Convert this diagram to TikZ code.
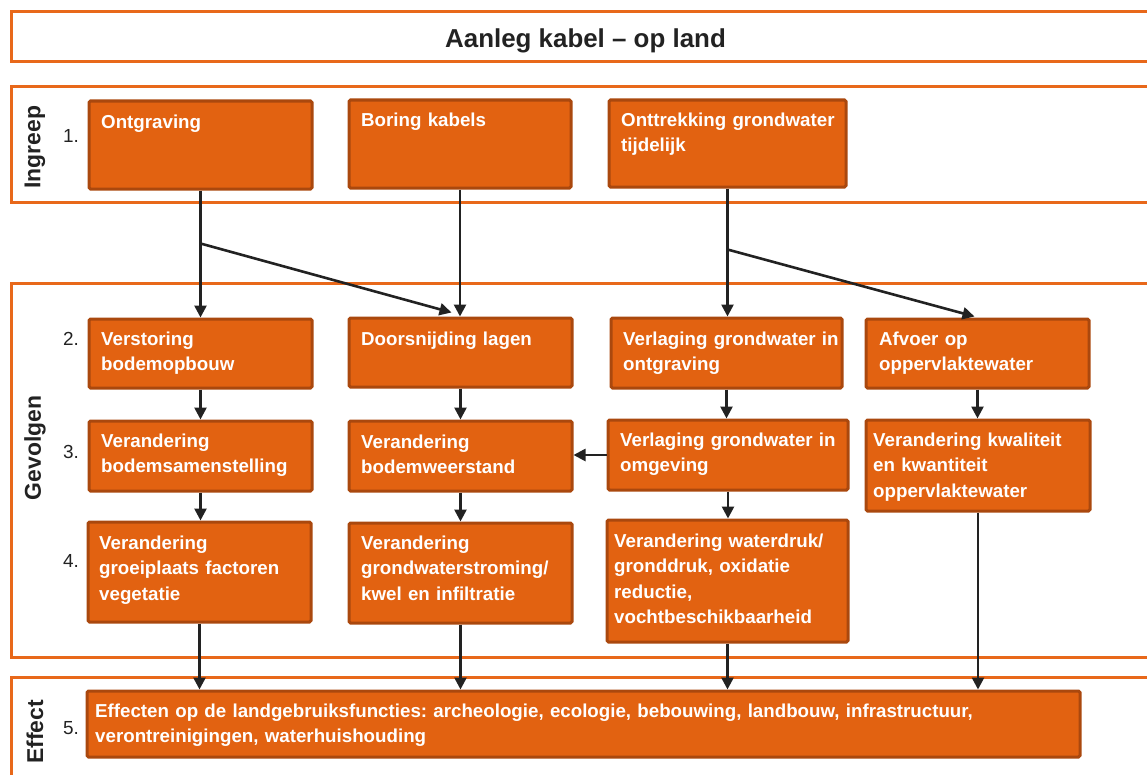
\documentclass[tikz,border=0pt]{standalone}
\usepackage{fontspec}
\setmainfont{Liberation Sans}
\usetikzlibrary{arrows.meta,fit,calc}

\definecolor{frameorange}{RGB}{232,104,26}
\definecolor{boxfill}{RGB}{226,98,17}
\definecolor{boxedge}{RGB}{170,72,14}
\definecolor{ink}{RGB}{34,34,34}

\begin{document}
\frenchspacing
\begin{tikzpicture}[x=1bp,y=-1bp,
  frame/.style={draw=frameorange,line width=3bp,inner sep=0pt},
  box/.style={draw=boxedge,fill=boxfill,line width=3bp,rounded corners=1.5bp,inner sep=0pt},
  boxtxt/.style={anchor=north west,inner sep=0pt,text=white,
    font=\fontsize{18.8}{25.7}\selectfont\bfseries,text width=1000bp,align=left},
  numlbl/.style={anchor=base west,inner sep=0pt,text=ink,font=\fontsize{19}{23}\selectfont},
  sidelbl/.style={rotate=90,inner sep=0pt,text=ink,font=\fontsize{23}{27}\selectfont\bfseries},
  arr/.style={draw=ink,line width=2.6bp,-{Triangle[length=12bp,width=12bp]}},
]
\path[use as bounding box] (0,0) rectangle (1147,775);
\clip (0,0) rectangle (1147,775);

% section frames
\node[frame,fit={(11,12) (1160,62)}] (titlebar) {};
\node[text=ink,font=\fontsize{26}{30}\selectfont\bfseries,inner sep=0pt]
  (title) at ($(titlebar.center)+(0,3.5)$) {Aanleg kabel – op land};
\node[frame,fit={(11,87) (1160,202)}] (ingreep) {};
\node[frame,fit={(11,283) (1160,657)}] (gevolgen) {};
\node[frame,fit={(11,677) (1160,800)}] (effect) {};

% section labels
\node[sidelbl] (l-ingreep) at (35,147) {Ingreep};
\node[sidelbl] (l-gevolgen) at (35,448) {Gevolgen};
\node[sidelbl] (l-effect) at (35,732) {Effect};

% step numbers
\node[numlbl] (n1) at (63,142) {1.};
\node[numlbl] (n2) at (63,345) {2.};
\node[numlbl] (n3) at (63,458) {3.};
\node[numlbl] (n4) at (63,567) {4.};
\node[numlbl] (n5) at (63,734) {5.};

% step 1: interventions
\node[box,fit={(89,101) (312,189)}] (A) {};
\node[boxtxt] (tA) at (101,110) {\strut Ontgraving};
\node[box,fit={(349,100) (571,188)}] (B) {};
\node[boxtxt] (tB) at (361,108) {\strut Boring kabels};
\node[box,fit={(609,100) (846,187)}] (C) {};
\node[boxtxt] (tC) at (621,108) {\strut Onttrekking grondwater\\tijdelijk};

% step 2
\node[box,fit={(89,319) (312,388)}] (D) {};
\node[boxtxt] (tD) at (101,327) {\strut Verstoring\\bodemopbouw};
\node[box,fit={(349,318) (572,387)}] (E) {};
\node[boxtxt] (tE) at (361,327) {\strut Doorsnijding lagen};
\node[box,fit={(611,318) (842,388)}] (F) {};
\node[boxtxt] (tF) at (623,327) {\strut Verlaging grondwater in\\ontgraving};
\node[box,fit={(866,319) (1089,388)}] (G) {};
\node[boxtxt] (tG) at (879,327) {\strut Afvoer op\\oppervlaktewater};

% step 3
\node[box,fit={(89,421) (312,491)}] (H) {};
\node[boxtxt] (tH) at (101,429) {\strut Verandering\\bodemsamenstelling};
\node[box,fit={(349,421) (572,491)}] (I) {};
\node[boxtxt] (tI) at (361,430) {\strut Verandering\\bodemweerstand};
\node[box,fit={(608,420) (848,490)}] (J) {};
\node[boxtxt] (tJ) at (620,428) {\strut Verlaging grondwater in\\omgeving};
\node[box,fit={(866,420) (1090,511)}] (K) {};
\node[boxtxt] (tK) at (873,428) {\strut Verandering kwaliteit\\en kwantiteit\\oppervlaktewater};

% step 4
\node[box,fit={(88,522) (311,622)}] (L) {};
\node[boxtxt] (tL) at (99,531) {\strut Verandering\\groeiplaats factoren\\vegetatie};
\node[box,fit={(349,523) (572,623)}] (M) {};
\node[boxtxt] (tM) at (361,531) {\strut Verandering\\grondwaterstroming/\\kwel en infiltratie};
\node[box,fit={(607,520) (848,642)}] (N) {};
\node[boxtxt] (tN) at (614,529) {\strut Verandering waterdruk/\\gronddruk, oxidatie\\reductie,\\vochtbeschikbaarheid};

% step 5: effects
\node[box,fit={(87,691) (1080,757)}] (O) {};
\node[boxtxt] (tO) at (95,699) {\strut Effecten op de landgebruiksfuncties: archeologie, ecologie, bebouwing, landbouw, infrastructuur,\\verontreinigingen, waterhuishouding};

% branch points
\coordinate (jA) at ($(A.south)+(0,53)$);
\coordinate (jC) at ($(C.south)+(0,61)$);

% connectors
\draw[arr] (A.south) -- (A.south |- D.north);
\draw[arr] (jA) -- ($(E.north)+(-9,-4)$);
\draw[arr] (B.south) -- (B.south |- E.north);
\draw[arr] (C.south) -- (C.south |- F.north);
\draw[arr] (jC) -- ($(G.north)+(-3,-1)$);

\draw[arr] (D.south) -- (D.south |- H.north);
\draw[arr] (E.south) -- (E.south |- I.north);
\draw[arr] (F.south) -- (F.south |- J.north);
\draw[arr] (G.south) -- (G.south |- K.north);
\draw[arr] (J.west) -- (J.west -| I.east);

\draw[arr] (H.south) -- (H.south |- L.north);
\draw[arr] (I.south) -- (I.south |- M.north);
\draw[arr] (J.south) -- (J.south |- N.north);

\draw[arr] (L.south) -- (L.south |- O.north);
\draw[arr] (M.south) -- (M.south |- O.north);
\draw[arr] (N.south) -- (N.south |- O.north);
\draw[arr] (K.south) -- (K.south |- O.north);
\end{tikzpicture}
\end{document}
